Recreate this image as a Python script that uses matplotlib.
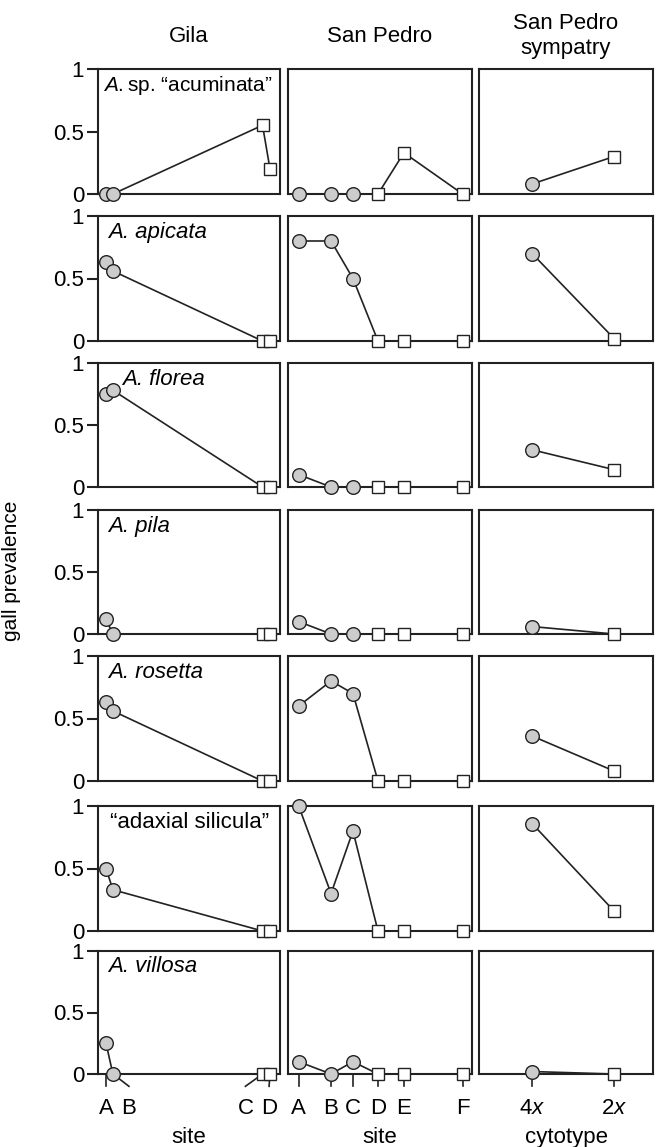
import matplotlib
matplotlib.use('Agg')
import matplotlib.pyplot as plt
import matplotlib.transforms as mtransforms

plt.rcParams['font.family'] = ['Liberation Sans', 'DejaVu Sans']
plt.rcParams['mathtext.fontset'] = 'custom'
plt.rcParams['mathtext.rm'] = 'Liberation Sans'
plt.rcParams['mathtext.it'] = 'Liberation Sans:italic'

# species (rows)
species = ['$\\mathit{A.}$sp. “acuminata”', 'A. apicata', 'A. florea', 'A. pila',
           'A. rosetta', '“adaxial silicula”', 'A. villosa']
species_italic = [False, True, True, True, True, False, True]

# site positions along each panel (0-1) and their labels
gila_x = [0.044, 0.082, 0.904, 0.945]
gila_label_x = [0.044, 0.17, 0.81, 0.94]
gila_sites = ['A', 'B', 'C', 'D']
gila_tetra = [True, True, False, False]

sp_x = [0.058, 0.234, 0.353, 0.489, 0.63, 0.949]
sp_sites = ['A', 'B', 'C', 'D', 'E', 'F']
sp_tetra = [True, True, True, False, False, False]

sym_x = [0.305, 0.776]
sym_labels = ['4$\\mathit{x}$', '2$\\mathit{x}$']
sym_tetra = [True, False]

# gall prevalence, one list per species
gila_vals = [
    [0, 0, 0.55, 0.2],
    [0.63, 0.56, 0, 0],
    [0.75, 0.78, 0, 0],
    [0.12, 0, 0, 0],
    [0.63, 0.56, 0, 0],
    [0.5, 0.33, 0, 0],
    [0.25, 0, 0, 0],
]
sp_vals = [
    [0, 0, 0, 0, 0.33, 0],
    [0.8, 0.8, 0.5, 0, 0, 0],
    [0.1, 0, 0, 0, 0, 0],
    [0.1, 0, 0, 0, 0, 0],
    [0.6, 0.8, 0.7, 0, 0, 0],
    [1.0, 0.3, 0.8, 0, 0, 0],
    [0.1, 0, 0.1, 0, 0, 0],
]
sym_vals = [
    [0.08, 0.3],
    [0.7, 0.02],
    [0.3, 0.14],
    [0.06, 0],
    [0.36, 0.08],
    [0.86, 0.16],
    [0.02, 0],
]

W, H = 657, 1147
fig = plt.figure(figsize=(W / 100, H / 100), dpi=100)

col_px = [(98, 280), (288, 472), (479, 653)]
row_px = [(69, 194), (216, 341), (363, 487), (510, 634), (656, 781), (806, 931), (951, 1074)]
label_x = [0.03, 0.057, 0.13, 0.057, 0.057, 0.066, 0.057]
label_fs = [15, 16, 16, 16, 16, 16, 16]

FS = 16
circle = dict(marker='o', ms=9.8, mfc='#cccccc', mec='#222222', mew=1.0, ls='none', clip_on=False, zorder=4)
square = dict(marker='s', ms=8.8, mfc='white', mec='#222222', mew=1.0, ls='none', clip_on=False, zorder=4)


def draw(ax, xs, ys, tetra):
    ax.plot(xs, ys, color='#222222', lw=1.2, clip_on=False, zorder=3)
    ax.plot([x for x, t in zip(xs, tetra) if t], [y for y, t in zip(ys, tetra) if t], **circle)
    ax.plot([x for x, t in zip(xs, tetra) if not t], [y for y, t in zip(ys, tetra) if not t], **square)


axes = []
for r, (top, bot) in enumerate(row_px):
    row_axes = []
    for c, (l, rr) in enumerate(col_px):
        ax = fig.add_axes([l / W, 1 - bot / H, (rr - l) / W, (bot - top) / H])
        ax.set_xlim(0, 1)
        ax.set_ylim(0, 1)
        for s in ax.spines.values():
            s.set_linewidth(1.5)
            s.set_color('#222222')
        ax.tick_params(axis='x', length=0, labelbottom=False)
        if c == 0:
            ax.set_yticks([0, 0.5, 1])
            ax.set_yticklabels(['0', '0.5', '1'])
            ax.tick_params(axis='y', length=8, width=1.5, color='#222222', labelsize=FS, pad=2)
        else:
            ax.set_yticks([])
        row_axes.append(ax)
    axes.append(row_axes)

    draw(row_axes[0], gila_x, gila_vals[r], gila_tetra)
    draw(row_axes[1], sp_x, sp_vals[r], sp_tetra)
    draw(row_axes[2], sym_x, sym_vals[r], sym_tetra)

    row_axes[0].text(label_x[r], 0.87, species[r], transform=row_axes[0].transAxes,
                     fontsize=label_fs[r], va='center', ha='left',
                     style='italic' if species_italic[r] else 'normal', zorder=5)

# bottom row: ticks and labels
bottom = axes[-1]
tick_len = 0.1
for ax, xs, lxs, labs in [(bottom[0], gila_x, gila_label_x, gila_sites),
                          (bottom[1], sp_x, sp_x, sp_sites),
                          (bottom[2], sym_x, sym_x, sym_labels)]:
    trans = mtransforms.blended_transform_factory(ax.transData, ax.transAxes)
    for x0, x1 in zip(xs, lxs):
        ax.plot([x0, x1], [0, -tick_len], color='#222222', lw=1.2, transform=trans, clip_on=False, zorder=1)
    ax.set_xticks(lxs)
    ax.set_xticklabels(labs)
    ax.tick_params(axis='x', length=0, labelbottom=True, labelsize=FS, pad=17)

bottom[0].set_xlabel('site', fontsize=FS, labelpad=6)
bottom[1].set_xlabel('site', fontsize=FS, labelpad=6)
bottom[2].set_xlabel('cytotype', fontsize=FS, labelpad=6)

# column headers
hy = 1 - 36 / H
fig.text((98 + 280) / 2 / W, hy, 'Gila', fontsize=FS, ha='center', va='center')
fig.text((288 + 472) / 2 / W, hy, 'San Pedro', fontsize=FS, ha='center', va='center')
fig.text((479 + 653) / 2 / W, hy, 'San Pedro\nsympatry', fontsize=FS, ha='center', va='center', linespacing=1.2)

fig.text(12 / W, 1 - 571 / H, 'gall prevalence', fontsize=15, rotation=90, ha='center', va='center')

fig.savefig('out.png', dpi=100)
